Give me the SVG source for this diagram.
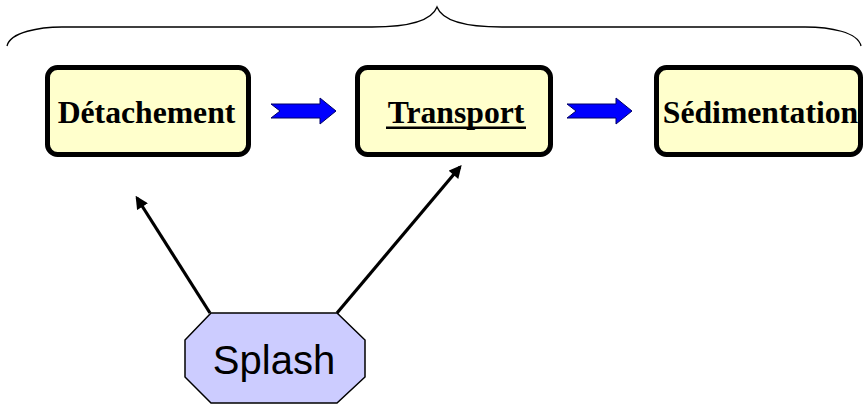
<svg xmlns="http://www.w3.org/2000/svg" width="865" height="404" viewBox="0 0 865 404">
<style>
.box{fill:#ffffcc;stroke:#000;stroke-width:5}
.lbl{font-family:"Liberation Serif","Times New Roman",serif;font-weight:bold;font-size:31.7px;fill:#000;text-anchor:middle}
.blue{fill:#0000ff;stroke:#000066;stroke-width:1}
.conn{stroke:#000;stroke-width:3.2;fill:none;marker-end:url(#ah)}
</style>
<defs>
<marker id="ah" viewBox="0 0 10 10" refX="8" refY="5" markerWidth="4.2" markerHeight="4" orient="auto" markerUnits="strokeWidth">
<path d="M0,0 L10,5 L0,10 Z" fill="#000"/>
</marker>
</defs>
<rect width="865" height="404" fill="#fff"/>
<path d="M7,46 C10,32 40,27 62,27 L372,27 C410,27 432,20 437,7 C442,20 464,27 502,27 L805,27 C830,27 858,32 861,46" fill="none" stroke="#000" stroke-width="1.3"/>
<g id="detachement">
<rect class="box" x="47.5" y="67.5" width="201" height="87" rx="10"/>
<text class="lbl" x="146.5" y="123">Détachement</text>
</g>
<g id="transport">
<rect class="box" x="357.5" y="67.5" width="193" height="87" rx="10"/>
<text class="lbl" x="456" y="123">Transport</text>
<rect x="386" y="126.5" width="140" height="2.5" fill="#000"/>
</g>
<g id="sedimentation">
<rect class="box" x="656.5" y="67.5" width="204" height="87" rx="10"/>
<text class="lbl" x="760.5" y="123">Sédimentation</text>
</g>
<g id="splash">
<polygon points="211,313 337,313 365,340 365,377 337,403 211,403 185,377 185,340" fill="#ccccff" stroke="#000" stroke-width="1.5"/>
<text x="274" y="374" font-family="Liberation Sans, Arial, sans-serif" font-size="40" text-anchor="middle" fill="#000">Splash</text>
</g>
<g id="connectors">
<polygon class="blue" points="271,104 320,104 320,98 336,111 320,124 320,118 271,118 280,111"/>
<polygon class="blue" points="567,104 616,104 616,98 632,111 616,124 616,118 567,118 576,111"/>
<line class="conn" x1="210" y1="313" x2="137" y2="198"/>
<line class="conn" x1="337" y1="313" x2="460" y2="167"/>
</g>
</svg>
